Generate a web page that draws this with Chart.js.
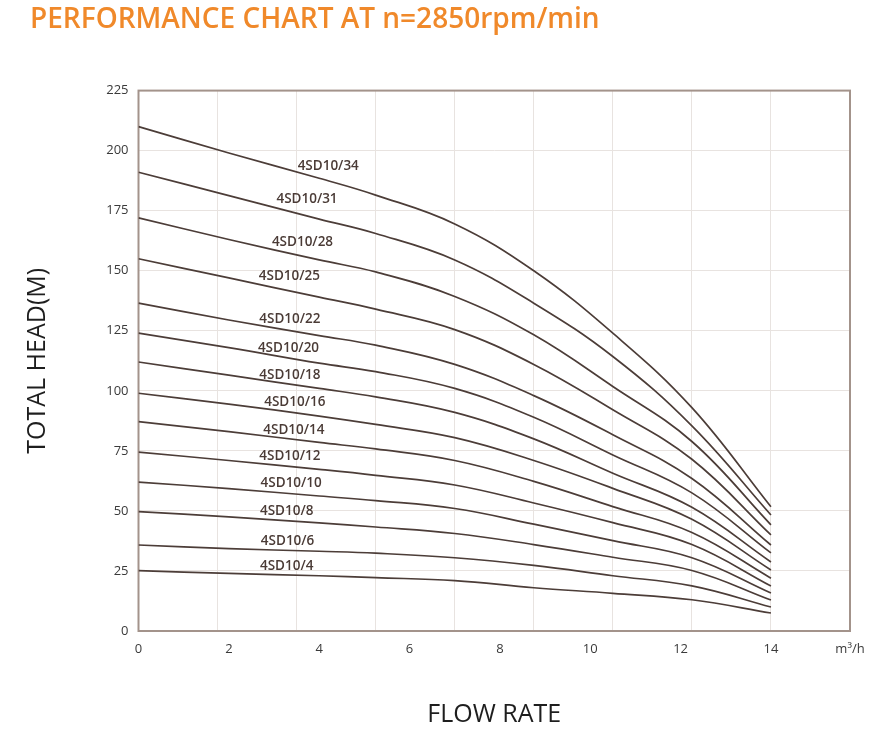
<!DOCTYPE html>
<html>
<head>
  <title>PERFORMANCE CHART AT n=2850rpm/min</title>
  <script src="https://cdn.jsdelivr.net/npm/chart.js"></script>
  <style>
    html, body { margin: 0; padding: 0; background: #fff; }
    #wrap { width: 875px; height: 742px; }
  </style>
</head>
<body>
  <div id="wrap"><canvas id="pumpChart"></canvas></div>

  <script>
    // pump models, top curve first
    const models = ['4SD10/34', '4SD10/31', '4SD10/28', '4SD10/25', '4SD10/22', '4SD10/20', '4SD10/18',
                    '4SD10/16', '4SD10/14', '4SD10/12', '4SD10/10', '4SD10/8', '4SD10/6', '4SD10/4'];

    // flow rate (m³/h) where the head values were read
    const flow = [0, 2, 4, 5.25, 7, 8.75, 10.5, 12.25, 14];

    // total head (m) per model
    const head34 = [210, 199, 188.5, 181.5, 169.5, 150, 124, 93, 51.7];
    const head31 = [191, 181.3, 171.5, 165.5, 154.5, 136.5, 114.3, 85.4, 48.3];
    const head28 = [172, 163, 154.5, 149.5, 139.3, 123.3, 101.8, 78.9, 44.2];
    const head25 = [155, 147, 139, 134, 125.5, 111, 92.1, 71.5, 40];
    const head22 = [136.5, 129.5, 123, 119, 111, 98, 81.7, 63.5, 35.8];
    const head20 = [124, 118, 111.5, 108, 101, 89, 73.3, 57.5, 32.5];
    const head18 = [112, 106.5, 101, 97.5, 91, 80, 65.7, 51.5, 28.75];
    const head16 = [99, 94.5, 89.5, 86, 80.5, 71, 59.4, 46.5, 25.4];
    const head14 = [87.2, 83, 78.5, 75.8, 71, 62.3, 51.8, 41, 22];
    const head12 = [74.5, 71, 67.3, 64.8, 60.8, 53.3, 45.1, 36, 18.75];
    const head10 = [62, 59.3, 56.2, 54.3, 51, 44.5, 37.6, 30.5, 15.8];
    const head8 = [49.7, 47.5, 45, 43.3, 40.6, 36, 30.7, 25.2, 12.9];
    const head6 = [35.8, 34.3, 33.2, 32.4, 30.5, 27.3, 23, 18.8, 10];
    const head4 = [25.1, 24, 23, 22.2, 21, 18, 15.7, 13, 7.5];
    const heads = [head34, head31, head28, head25, head22, head20, head18,
                   head16, head14, head12, head10, head8, head6, head4];

    // tick labels
    const xTickLabels = [0, 2, 4, 6, 8, 10, 12, 14];
    const xUnit = 'm³/h';
    const yTickStep = 25;

    // the grid of the sheet is not on the labels: one cell = 1.75 m³/h
    const GRID_STEP = 1.75;
    const X_MAX = 15.75;
    const isGridValue = v => Math.abs(v / GRID_STEP - Math.round(v / GRID_STEP)) < 1e-6;

    // where each model name sits (m³/h, m)
    const labelAnchors = [
      [4.20, 193.5], [3.73, 179.6], [3.63, 161.9], [3.34, 147.9], [3.35, 129.9], [3.32, 117.8], [3.35, 106.7],
      [3.46, 95.1], [3.44, 83.75], [3.35, 72.9], [3.38, 61.7], [3.28, 49.7], [3.30, 37.2], [3.28, 26.8]
    ];

    const LINE = '#4c3d38';
    const GRID = '#e8e3e0';
    const TEXT = '#3a3a3a';

    Chart.defaults.font.family = '"Open Sans", sans-serif';

    const boxBorder = {
      id: 'boxBorder',
      beforeDatasetsDraw(chart) {
        const { ctx, chartArea: a } = chart;
        ctx.save();
        ctx.strokeStyle = '#a3938b';
        ctx.lineWidth = 2;
        ctx.strokeRect(a.left, a.top, a.right - a.left, a.bottom - a.top);
        ctx.restore();
      }
    };

    const curveLabels = {
      id: 'curveLabels',
      afterDatasetsDraw(chart, args, opts) {
        const { ctx, scales: { x, y } } = chart;
        ctx.save();
        ctx.font = '600 13.5px "Open Sans"';
        ctx.fillStyle = '#4a3b36';
        ctx.textAlign = 'center';
        ctx.textBaseline = 'middle';
        chart.data.datasets.forEach((ds, i) => {
          const [ax, ay] = opts.anchors[i];
          ctx.fillText(ds.label, x.getPixelForValue(ax), y.getPixelForValue(ay));
        });
        ctx.restore();
      }
    };

    const xTicks = [];
    for (let g = 0; g <= X_MAX + 1e-9; g += GRID_STEP) xTicks.push(+g.toFixed(2));
    xTickLabels.forEach(v => { if (!xTicks.includes(v)) xTicks.push(v); });
    xTicks.sort((a, b) => a - b);

    new Chart(document.getElementById('pumpChart'), {
      type: 'line',
      data: {
        datasets: models.map((m, i) => ({
          label: m,
          data: flow.map((f, j) => ({ x: f, y: heads[i][j] })),
          borderColor: LINE,
          borderWidth: 1.7,
          pointRadius: 0,
          fill: false,
          tension: 0.4
        }))
      },
      options: {
        responsive: true,
        maintainAspectRatio: false,
        animation: false,
        layout: { padding: { left: 30, right: 25, top: 0, bottom: 0 } },
        plugins: {
          legend: { display: false },
          tooltip: { enabled: false },
          title: {
            display: true,
            text: 'PERFORMANCE CHART AT n=2850rpm/min',
            align: 'start',
            color: '#f0892a',
            font: { size: 28, weight: '600' },
            padding: { top: 3, bottom: 54 }
          },
          curveLabels: { anchors: labelAnchors }
        },
        scales: {
          x: {
            type: 'linear',
            min: 0,
            max: X_MAX,
            afterBuildTicks: s => { s.ticks = xTicks.map(v => ({ value: v })); },
            afterFit: s => { s.height = 111; },
            ticks: {
              autoSkip: false,
              maxRotation: 0,
              padding: 10,
              color: TEXT,
              font: { size: 13 },
              callback: v => xTickLabels.includes(v) ? String(v) : (v === X_MAX ? xUnit : '')
            },
            grid: {
              drawTicks: false,
              color: c => (c.tick && isGridValue(c.tick.value)) ? GRID : 'rgba(0,0,0,0)'
            },
            border: { display: false },
            title: {
              display: true,
              text: 'FLOW RATE',
              color: '#1e1e1e',
              font: { size: 25, weight: '500' },
              padding: { top: 0, bottom: 12 }
            }
          },
          y: {
            min: 0,
            max: 225,
            afterFit: s => { s.width = 108.5; },
            ticks: { stepSize: yTickStep, padding: 10, color: TEXT, font: { size: 13 } },
            grid: { drawTicks: false, color: GRID },
            border: { display: false },
            title: {
              display: true,
              text: 'TOTAL HEAD(M)',
              color: '#1e1e1e',
              font: { size: 25, weight: '500' },
              padding: { top: -7, bottom: 0 }
            }
          }
        }
      },
      plugins: [boxBorder, curveLabels]
    });
  </script>
</body>
</html>
